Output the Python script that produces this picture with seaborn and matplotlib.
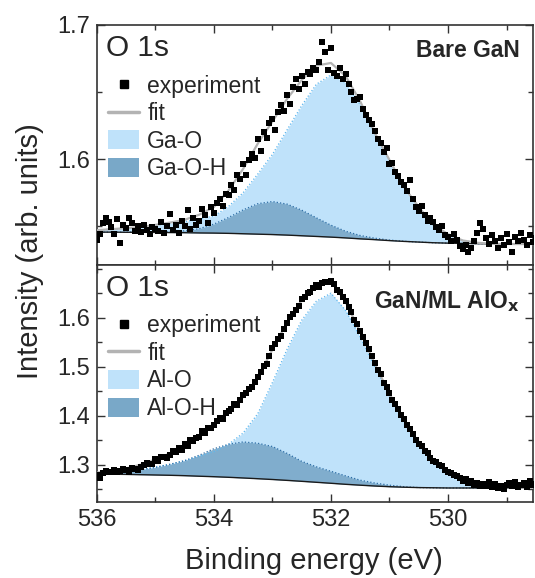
import numpy as np
import pandas as pd
import matplotlib
matplotlib.use("Agg")
import matplotlib.pyplot as plt
import seaborn as sns
from matplotlib.ticker import MultipleLocator
from matplotlib.lines import Line2D
from matplotlib.patches import Patch

sns.set_style("ticks")
plt.rcParams['font.family'] = ['Liberation Sans', 'DejaVu Sans']

# ---------------- data ----------------
comp_energy = [536.00, 535.75, 535.50, 535.25, 535.00, 534.75, 534.50, 534.25, 534.00,
               533.75, 533.50, 533.25, 533.00, 532.75, 532.50, 532.25, 532.00, 531.75,
               531.50, 531.25, 531.00, 530.75, 530.50, 530.25, 530.00, 529.75, 529.50,
               529.25, 529.00, 528.75, 528.50]

top_background = [1.5455, 1.5455, 1.5454, 1.5454, 1.5453, 1.5452, 1.5451, 1.5449, 1.5448,
                  1.5446, 1.5443, 1.5440, 1.5437, 1.5433, 1.5428, 1.5423, 1.5418, 1.5412,
                  1.5405, 1.5399, 1.5392, 1.5386, 1.5381, 1.5376, 1.5373, 1.5371, 1.5369,
                  1.5368, 1.5367, 1.5366, 1.5366]
top_ga_o = [0.0015, 0.0022, 0.0030, 0.0037, 0.0052, 0.0067, 0.0082, 0.0104, 0.0127,
            0.0201, 0.0306, 0.0448, 0.0597, 0.0784, 0.0970, 0.1134, 0.1209, 0.1157,
            0.1000, 0.0784, 0.0597, 0.0403, 0.0261, 0.0134, 0.0067, 0.0022, 0.0007,
            0.0, 0.0, 0.0, 0.0]
top_ga_o_h = [0.0, 0.0, 0.0001, 0.0002, 0.0004, 0.0007, 0.0014, 0.0032, 0.0067,
              0.0118, 0.0178, 0.0227, 0.0246, 0.0231, 0.0191, 0.0139, 0.0089, 0.0050,
              0.0025, 0.0011, 0.0004, 0.0001, 0.0, 0.0, 0.0, 0.0, 0.0,
              0.0, 0.0, 0.0, 0.0]

bottom_background = [1.2816, 1.2812, 1.2808, 1.2802, 1.2796, 1.2790, 1.2782, 1.2771, 1.2761,
                     1.2749, 1.2735, 1.2720, 1.2704, 1.2686, 1.2667, 1.2647, 1.2627, 1.2606,
                     1.2588, 1.2571, 1.2557, 1.2547, 1.2539, 1.2535, 1.2531, 1.2531, 1.2531,
                     1.2531, 1.2531, 1.2531, 1.2531]
bottom_al_o = [0.0020, 0.0041, 0.0061, 0.0102, 0.0163, 0.0224, 0.0306, 0.0408, 0.0510,
               0.0673, 0.0918, 0.1327, 0.1980, 0.2673, 0.3286, 0.3694, 0.3878, 0.3548,
               0.3024, 0.2429, 0.1861, 0.1361, 0.0910, 0.0567, 0.0347, 0.0204, 0.0102,
               0.0040, 0.0015, 0.0005, 0.0]
bottom_al_o_h = [0.0010, 0.0020, 0.0061, 0.0102, 0.0153, 0.0224, 0.0306, 0.0429, 0.0571,
                 0.0673, 0.0735, 0.0724, 0.0673, 0.0551, 0.0408, 0.0316, 0.0245, 0.0173,
                 0.0102, 0.0061, 0.0031, 0.0010, 0.0, 0.0, 0.0, 0.0, 0.0,
                 0.0, 0.0, 0.0, 0.0]

exp_energy = [536.00, 535.95, 535.90, 535.85, 535.80, 535.75, 535.70, 535.65, 535.60, 535.55,
              535.50, 535.45, 535.40, 535.35, 535.30, 535.25, 535.20, 535.15, 535.10, 535.05,
              535.00, 534.95, 534.90, 534.85, 534.80, 534.75, 534.70, 534.65, 534.60, 534.55,
              534.50, 534.45, 534.40, 534.35, 534.30, 534.25, 534.20, 534.15, 534.10, 534.05,
              534.00, 533.95, 533.90, 533.85, 533.80, 533.75, 533.70, 533.65, 533.60, 533.55,
              533.50, 533.45, 533.40, 533.35, 533.30, 533.25, 533.20, 533.15, 533.10, 533.05,
              533.00, 532.95, 532.90, 532.85, 532.80, 532.75, 532.70, 532.65, 532.60, 532.55,
              532.50, 532.45, 532.40, 532.35, 532.30, 532.25, 532.20, 532.15, 532.10, 532.05,
              532.00, 531.95, 531.90, 531.85, 531.80, 531.75, 531.70, 531.65, 531.60, 531.55,
              531.50, 531.45, 531.40, 531.35, 531.30, 531.25, 531.20, 531.15, 531.10, 531.05,
              531.00, 530.95, 530.90, 530.85, 530.80, 530.75, 530.70, 530.65, 530.60, 530.55,
              530.50, 530.45, 530.40, 530.35, 530.30, 530.25, 530.20, 530.15, 530.10, 530.05,
              530.00, 529.95, 529.90, 529.85, 529.80, 529.75, 529.70, 529.65, 529.60, 529.55,
              529.50, 529.45, 529.40, 529.35, 529.30, 529.25, 529.20, 529.15, 529.10, 529.05,
              529.00, 528.95, 528.90, 528.85, 528.80, 528.75, 528.70, 528.65, 528.60, 528.55,
              528.50]

top_experiment = [1.5400, 1.5440, 1.5525, 1.5560, 1.5530, 1.5495, 1.5440, 1.5555, 1.5375, 1.5510,
                  1.5485, 1.5560, 1.5520, 1.5465, 1.5500, 1.5455, 1.5505, 1.5470, 1.5440, 1.5495,
                  1.5475, 1.5460, 1.5530, 1.5445, 1.5500, 1.5590, 1.5470, 1.5505, 1.5450, 1.5540,
                  1.5500, 1.5620, 1.5480, 1.5560, 1.5510, 1.5540, 1.5630, 1.5580, 1.5520, 1.5640,
                  1.5600, 1.5670, 1.5700, 1.5650, 1.5740, 1.5730, 1.5810, 1.5770, 1.5880, 1.5850,
                  1.5960, 1.5880, 1.5990, 1.6040, 1.6010, 1.6150, 1.6060, 1.6200, 1.6160, 1.6270,
                  1.6300, 1.6220, 1.6350, 1.6400, 1.6360, 1.6480, 1.6410, 1.6540, 1.6600, 1.6520,
                  1.6620, 1.6560, 1.6650, 1.6630, 1.6680, 1.6660, 1.6720, 1.6870, 1.6800, 1.6660,
                  1.6830, 1.6640, 1.6620, 1.6680, 1.6600, 1.6630, 1.6560, 1.6500, 1.6440, 1.6450,
                  1.6460, 1.6370, 1.6330, 1.6290, 1.6260, 1.6210, 1.6150, 1.6120, 1.6050, 1.6080,
                  1.5960, 1.5970, 1.5900, 1.5870, 1.5830, 1.5810, 1.5760, 1.5840, 1.5700, 1.5640,
                  1.5610, 1.5650, 1.5580, 1.5540, 1.5560, 1.5530, 1.5490, 1.5470, 1.5500, 1.5430,
                  1.5420, 1.5390, 1.5440, 1.5400, 1.5350, 1.5330, 1.5360, 1.5310, 1.5340, 1.5390,
                  1.5450, 1.5520, 1.5480, 1.5410, 1.5370, 1.5430, 1.5390, 1.5340, 1.5410, 1.5360,
                  1.5440, 1.5380, 1.5310, 1.5420, 1.5390, 1.5450, 1.5400, 1.5360, 1.5430, 1.5380,
                  1.5410]

bottom_experiment = [1.2790, 1.2740, 1.2830, 1.2880, 1.2850, 1.2860, 1.2900, 1.2850, 1.2880, 1.2910,
                     1.2890, 1.2860, 1.2940, 1.2920, 1.2890, 1.2960, 1.2990, 1.3040, 1.3020, 1.3010,
                     1.3130, 1.3080, 1.3170, 1.3160, 1.3140, 1.3200, 1.3290, 1.3260, 1.3340, 1.3300,
                     1.3420, 1.3380, 1.3500, 1.3480, 1.3550, 1.3580, 1.3690, 1.3660, 1.3750, 1.3760,
                     1.3810, 1.3900, 1.3960, 1.3930, 1.4060, 1.4110, 1.4150, 1.4240, 1.4220, 1.4330,
                     1.4420, 1.4460, 1.4560, 1.4590, 1.4700, 1.4790, 1.4890, 1.5020, 1.5070, 1.5220,
                     1.5380, 1.5460, 1.5570, 1.5640, 1.5770, 1.5900, 1.6010, 1.6090, 1.6170, 1.6240,
                     1.6380, 1.6420, 1.6510, 1.6530, 1.6610, 1.6680, 1.6640, 1.6720, 1.6740, 1.6730,
                     1.6760, 1.6690, 1.6560, 1.6530, 1.6420, 1.6350, 1.6220, 1.6130, 1.5960, 1.5880,
                     1.5740, 1.5610, 1.5480, 1.5360, 1.5220, 1.5080, 1.4940, 1.4850, 1.4680, 1.4590,
                     1.4460, 1.4330, 1.4240, 1.4140, 1.4020, 1.3930, 1.3820, 1.3740, 1.3640, 1.3520,
                     1.3420, 1.3390, 1.3280, 1.3250, 1.3150, 1.3090, 1.3060, 1.2990, 1.2970, 1.2900,
                     1.2850, 1.2830, 1.2800, 1.2770, 1.2740, 1.2680, 1.2720, 1.2640, 1.2680, 1.2600,
                     1.2640, 1.2570, 1.2620, 1.2580, 1.2650, 1.2550, 1.2610, 1.2540, 1.2580, 1.2520,
                     1.2600, 1.2630, 1.2580, 1.2650, 1.2560, 1.2590, 1.2640, 1.2550, 1.2670, 1.2600,
                     1.2620]

x_ticks = [536, 534, 532, 530]

panels = [
    dict(exp=top_experiment, bg=top_background, main=top_ga_o, hyd=top_ga_o_h,
         labels=("Ga-O", "Ga-O-H"), tag="Bare GaN", tag_y=0.895,
         ylim=(1.521, 1.700), yticks=[1.6, 1.7]),
    dict(exp=bottom_experiment, bg=bottom_background, main=bottom_al_o, hyd=bottom_al_o_h,
         labels=("Al-O", "Al-O-H"), tag=r"GaN/ML AlO$_\mathbf{x}$", tag_y=0.85,
         ylim=(1.2245, 1.708), yticks=[1.3, 1.4, 1.5, 1.6]),
]

# ---------------- style ----------------
LIGHT = "#bfe2fa"
LIGHT_EDGE = "#5cb6ee"
DARK = "#79a8c8"
DARK_EDGE = "#2e6ea6"
FIT = "#b3b3b3"

fig = plt.figure(figsize=(5.35, 5.78), dpi=100)
ax_top = fig.add_axes([0.181, 0.5415, 0.815, 0.4155])
ax_bot = fig.add_axes([0.181, 0.1315, 0.815, 0.4100])
axes = [ax_top, ax_bot]

for ax, p in zip(axes, panels):
    e = np.array(comp_energy)
    bg = np.array(p["bg"])
    main_top = bg + np.array(p["main"])
    hyd_top = bg + np.array(p["hyd"])
    fit = bg + np.array(p["main"]) + np.array(p["hyd"])

    ax.fill_between(e, bg, main_top, color=LIGHT, lw=0, zorder=1)
    ax.fill_between(e, bg, hyd_top, color=DARK, lw=0, alpha=0.9, zorder=2)
    ax.plot(e, main_top, color=LIGHT_EDGE, lw=0.9, ls=":", zorder=3)
    ax.plot(e, hyd_top, color=DARK_EDGE, lw=0.9, ls=":", zorder=3)

    curves = pd.DataFrame({"energy": comp_energy, "bg": p["bg"], "fit": fit})
    sns.lineplot(data=curves, x="energy", y="bg", ax=ax, color="#1a1a1a", lw=1.0,
                 sort=False, zorder=4)
    sns.lineplot(data=curves, x="energy", y="fit", ax=ax, color=FIT, lw=1.6,
                 sort=False, zorder=5)

    exp_df = pd.DataFrame({"energy": exp_energy, "intensity": p["exp"]})
    sns.scatterplot(data=exp_df, x="energy", y="intensity", ax=ax, marker="s",
                    color="black", s=16, linewidth=0, zorder=6)

    ax.set_xlim(536, 528.55)
    ax.set_ylim(*p["ylim"])
    ax.set_xticks(x_ticks)
    ax.xaxis.set_minor_locator(MultipleLocator(1))
    ax.set_yticks(p["yticks"])
    ax.yaxis.set_minor_locator(MultipleLocator(0.05))
    ax.set_xlabel("")
    ax.set_ylabel("")
    ax.tick_params(which="both", direction="in", top=True, right=True, width=1.0,
                   color="#333333", labelsize=17, pad=5)
    ax.tick_params(which="major", length=6)
    ax.tick_params(which="minor", length=3.5)
    for s in ax.spines.values():
        s.set_linewidth(1.2)
        s.set_color("#333333")

    ax.text(0.02, 0.905, "O 1s", transform=ax.transAxes, fontsize=21.5,
            ha="left", va="center")
    ax.text(0.97, p["tag_y"], p["tag"], transform=ax.transAxes,
            fontsize=16.5, fontweight="bold", ha="right", va="center")

    handles = [
        Line2D([], [], marker="s", color="black", ls="none", markersize=5.5),
        Line2D([], [], color=FIT, lw=2.5),
        Patch(facecolor=LIGHT, edgecolor="none"),
        Patch(facecolor=DARK, edgecolor="none"),
    ]
    ax.legend(handles, ["experiment", "fit", p["labels"][0], p["labels"][1]],
              loc="upper left", bbox_to_anchor=(-0.005, 0.85), frameon=False,
              fontsize=16.5, handlelength=1.35, handleheight=0.9, handletextpad=0.35,
              labelspacing=0.2, borderaxespad=0.2)

ax_top.tick_params(labelbottom=False)

fig.text(0.056, 0.566, "Intensity (arb. units)", rotation=90, fontsize=21,
         ha="center", va="center")
fig.text(0.587, 0.03, "Binding energy (eV)", fontsize=21, ha="center", va="center")

fig.savefig("out.png", dpi=100)
